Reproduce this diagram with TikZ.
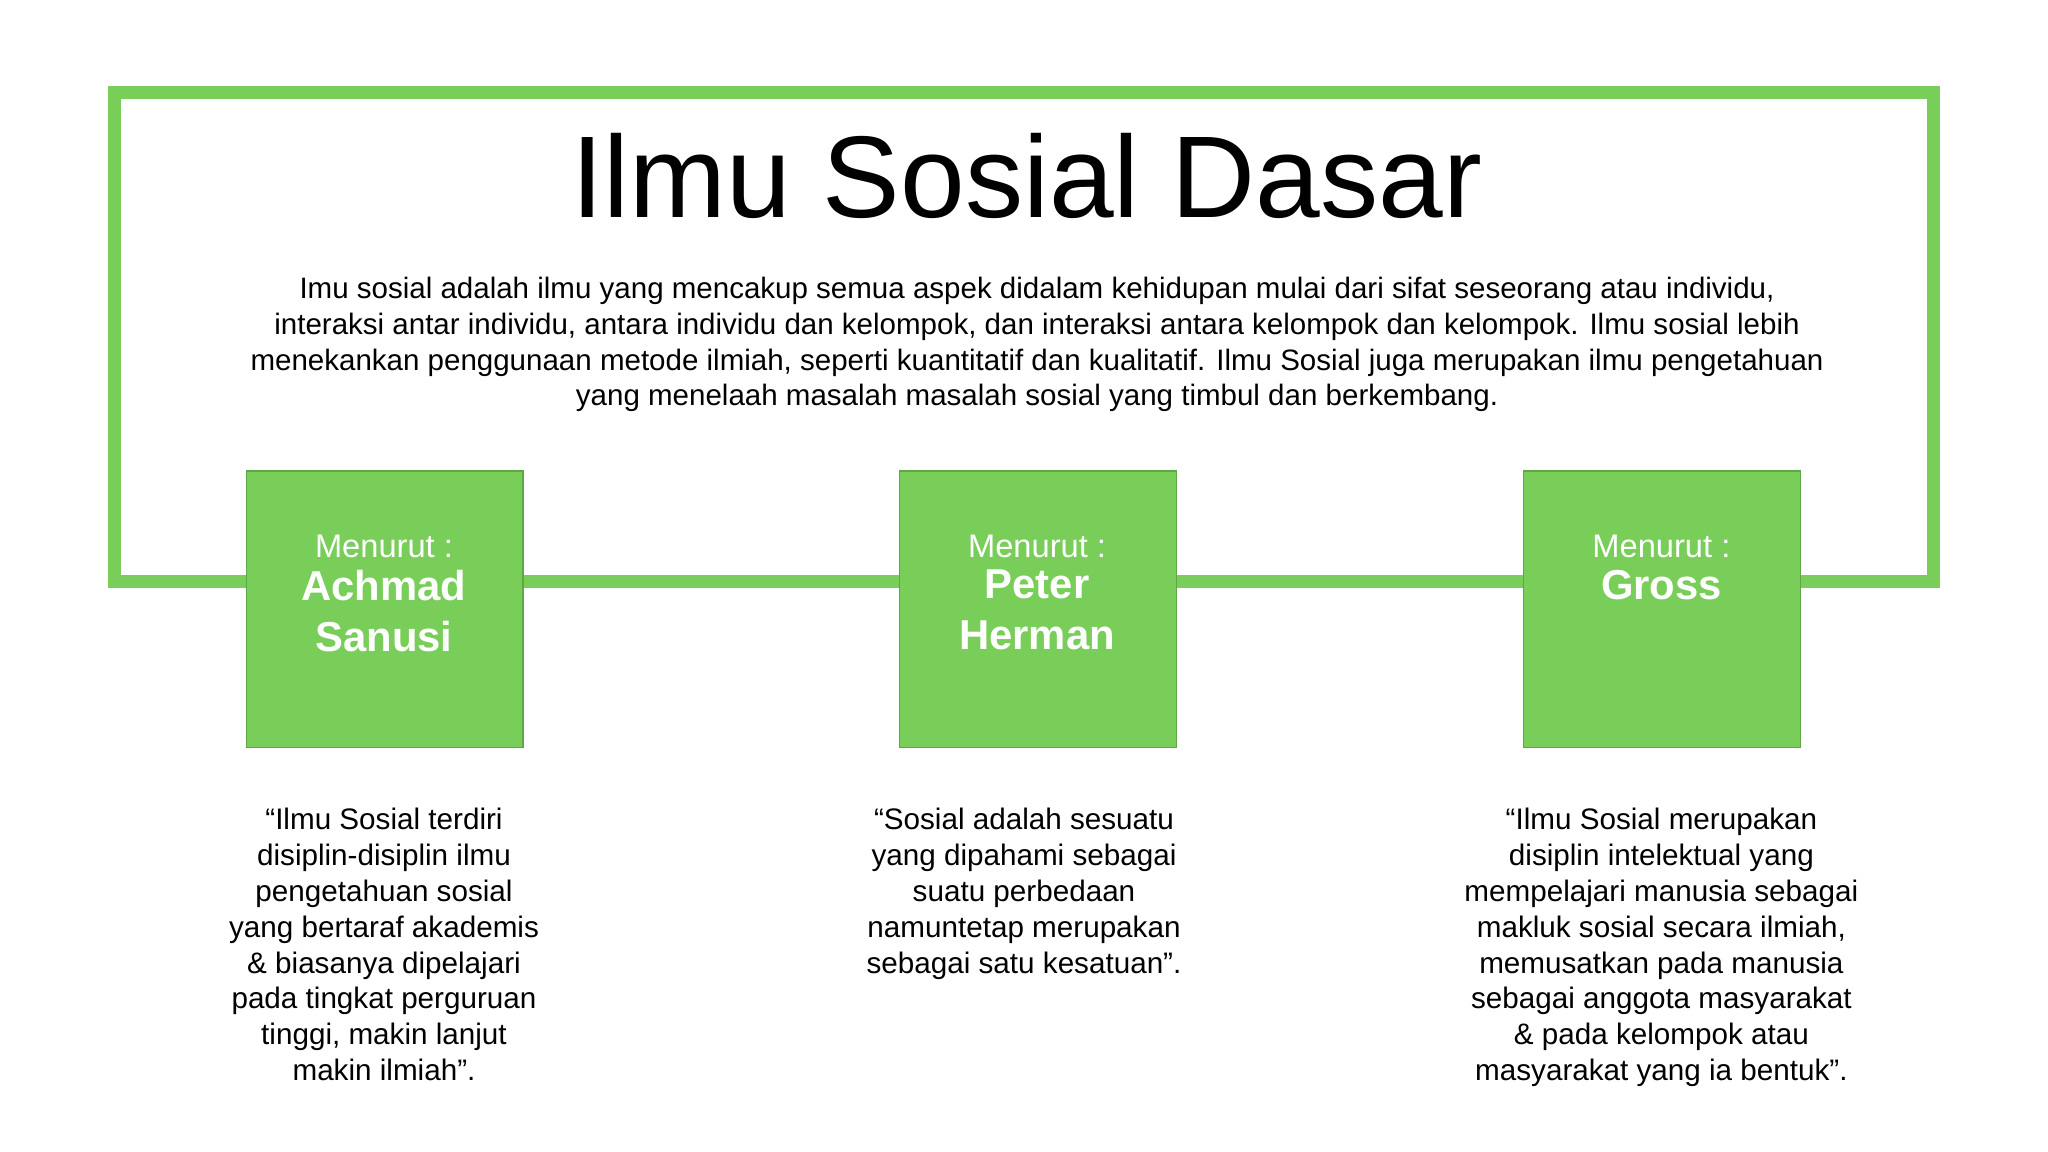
\documentclass[tikz,border=0pt]{standalone}
\usepackage{fontspec}
\setmainfont{Liberation Sans}
\definecolor{grn}{HTML}{78CE58}
\definecolor{grnd}{HTML}{5DA844}
\begin{document}
\begin{tikzpicture}[x=1pt,y=-1pt,
  person/.style={draw=grnd,line width=1pt,fill=grn,minimum width=212pt,minimum height=212pt,anchor=north west},
  quote/.style={align=center,font=\fontsize{22.7}{27.5}\selectfont,anchor=north},
  menu/.style={text=white,anchor=center,font=\fontsize{25}{30}\selectfont},
  who/.style={text=white,align=center,anchor=north,font=\fontsize{32}{39}\selectfont\bfseries}]
\useasboundingbox (0,0) rectangle (1568,882);
\draw[grn,line width=10pt] (88,71) rectangle (1480,445);
\node[anchor=center,font=\fontsize{89}{100}\selectfont] (title) at (786,135) {Ilmu Sosial Dasar};
\node[anchor=north,align=center,font=\fontsize{22.6}{27.3}\selectfont] (desc) at (794,209) {Imu sosial adalah ilmu yang mencakup semua aspek didalam kehidupan mulai dari sifat seseorang atau individu,\\interaksi antar individu, antara individu dan kelompok, dan interaksi antara kelompok dan kelompok. Ilmu sosial lebih\\menekankan penggunaan metode ilmiah, seperti kuantitatif dan kualitatif. Ilmu Sosial juga merupakan ilmu pengetahuan\\yang menelaah masalah masalah sosial yang timbul dan berkembang.};
\node[person] (b1) at (188,360) {};
\node[person] (b2) at (688,360) {};
\node[person] (b3) at (1166,360) {};
\node[menu] (m1) at (294,418) {Menurut :};
\node[menu] (m2) at (794,418) {Menurut :};
\node[menu] (m3) at (1272,418) {Menurut :};
\node[who] (w1) at (294,433) {Achmad\\Sanusi};
\node[who] (w2) at (794,433) {Peter\\Herman};
\node[who] (w3) at (1272,433) {Gross};
\node[quote] (q1) at (294,615) {“Ilmu Sosial terdiri\\disiplin-disiplin ilmu\\pengetahuan sosial\\yang bertaraf akademis\\\& biasanya dipelajari\\pada tingkat perguruan\\tinggi, makin lanjut\\makin ilmiah”.};
\node[quote] (q2) at (784,615) {“Sosial adalah sesuatu\\yang dipahami sebagai\\suatu perbedaan\\namuntetap merupakan\\sebagai satu kesatuan”.};
\node[quote] (q3) at (1272,615) {“Ilmu Sosial merupakan\\disiplin intelektual yang\\mempelajari manusia sebagai\\makluk sosial secara ilmiah,\\memusatkan pada manusia\\sebagai anggota masyarakat\\\& pada kelompok atau\\masyarakat yang ia bentuk”.};
\end{tikzpicture}
\end{document}
